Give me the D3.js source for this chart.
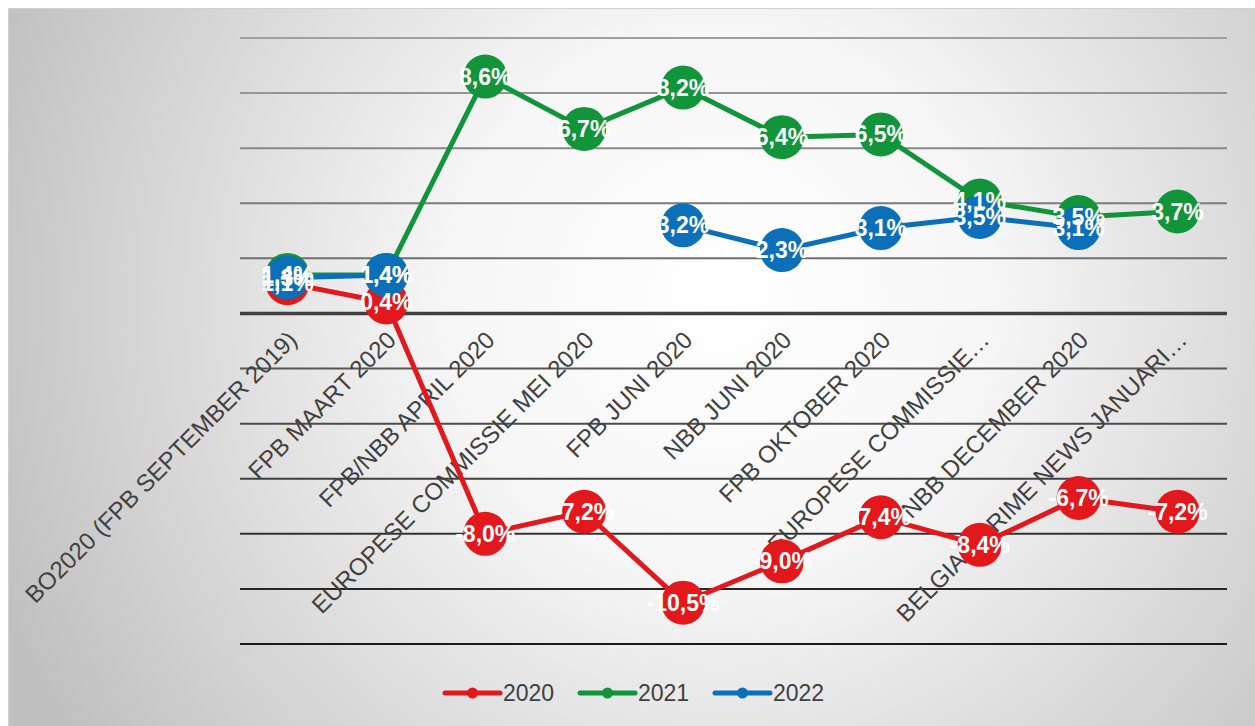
<!DOCTYPE html>
<html>
<head>
<meta charset="utf-8">
<script src="https://cdn.jsdelivr.net/npm/d3@7"></script>
<style>
	body { margin: 0; background: #fff; }
	svg { display: block; font-family: "Liberation Sans", Arial, sans-serif; }
	.x-label { fill: #404040; font-size: 24px; }
	.value-label { fill: #fff; font-size: 23px; font-weight: bold; }
	.legend-label { fill: #404040; font-size: 23px; }
</style>
</head>
<body>
<div id="graphic"></div>
<script>
// Data
var CATEGORIES = [
	'BO2020 (FPB SEPTEMBER 2019)',
	'FPB MAART 2020',
	'FPB/NBB APRIL 2020',
	'EUROPESE COMMISSIE MEI 2020',
	'FPB JUNI 2020',
	'NBB JUNI 2020',
	'FPB OKTOBER 2020',
	'EUROPESE COMMISSIE\u2026',
	'NBB DECEMBER 2020',
	'BELGIAN PRIME NEWS JANUARI\u2026'
];

var SERIES_NAMES = ['2020', '2021', '2022'];

var VALUES_2020 = [1.1, 0.4, -8.0, -7.2, -10.5, -9.0, -7.4, -8.4, -6.7, -7.2];
var VALUES_2021 = [1.4, 1.4, 8.6, 6.7, 8.2, 6.4, 6.5, 4.1, 3.5, 3.7];
var VALUES_2022 = [1.3, 1.4, null, null, 3.2, 2.3, 3.1, 3.5, 3.1, null];

var Y_TICKS = [-12, -10, -8, -6, -4, -2, 0, 2, 4, 6, 8, 10];

var COLORS = ['#e2181c', '#12943a', '#0b6fba'];

var WIDTH = 1255;
var HEIGHT = 726;

function formatValue(v) {
	return d3.format('.1f')(v).replace('.', ',').replace('\u2212', '-') + '%';
}

function render() {
	var margins = { top: 38, right: 28, bottom: 82, left: 240 };

	var svg = d3.select('#graphic').append('svg')
		.attr('width', WIDTH)
		.attr('height', HEIGHT);

	// Background gradient
	var defs = svg.append('defs');
	var grad = defs.append('radialGradient')
		.attr('id', 'bg')
		.attr('gradientUnits', 'userSpaceOnUse')
		.attr('cx', 720).attr('cy', 300)
		.attr('r', 780);
	grad.append('stop').attr('offset', '0%').attr('stop-color', '#ffffff');
	grad.append('stop').attr('offset', '35%').attr('stop-color', '#f6f6f6');
	grad.append('stop').attr('offset', '100%').attr('stop-color', '#c0c0c0');

	svg.append('rect')
		.attr('x', 8.5).attr('y', 8.5)
		.attr('width', WIDTH)
		.attr('height', HEIGHT)
		.attr('fill', 'url(#bg)')
		.attr('stroke', '#d0d0d0')
		.attr('stroke-width', 1);

	var xScale = d3.scalePoint()
		.domain(CATEGORIES)
		.range([margins.left - 2, WIDTH - margins.right])
		.padding(0.5);

	var yScale = d3.scaleLinear()
		.domain([-12, 10])
		.range([HEIGHT - margins.bottom, margins.top]);

	var gridColor = d3.scaleLinear()
		.domain([10, -12])
		.range(['#a0a0a0', '#1a1a1a']);

	// Gridlines
	var grid = svg.append('g').attr('class', 'grid');
	grid.selectAll('line')
		.data(Y_TICKS.filter(function(d) { return d !== 0; }))
		.enter().append('line')
		.attr('x1', margins.left)
		.attr('x2', WIDTH - margins.right)
		.attr('y1', function(d) { return yScale(d); })
		.attr('y2', function(d) { return yScale(d); })
		.attr('stroke', function(d) { return gridColor(d); })
		.attr('stroke-width', 2);

	// Zero axis line
	svg.append('line')
		.attr('x1', margins.left)
		.attr('x2', WIDTH - margins.right)
		.attr('y1', yScale(0))
		.attr('y2', yScale(0))
		.attr('stroke', '#404040')
		.attr('stroke-width', 3.5);

	// Category labels
	svg.append('g').attr('class', 'x-labels')
		.selectAll('text')
		.data(CATEGORIES)
		.enter().append('text')
		.attr('class', 'x-label')
		.attr('text-anchor', 'end')
		.attr('transform', function(d) {
			return 'translate(' + (xScale(d) + 11) + ',' + (yScale(0) + 28) + ') rotate(-45)';
		})
		.text(function(d) { return d; });

	var seriesData = [VALUES_2020, VALUES_2021, VALUES_2022].map(function(vals, i) {
		return {
			name: SERIES_NAMES[i],
			color: COLORS[i],
			points: vals.map(function(v, j) { return { cat: CATEGORIES[j], value: v }; })
		};
	});

	var line = d3.line()
		.defined(function(d) { return d.value !== null; })
		.x(function(d) { return xScale(d.cat); })
		.y(function(d) { return yScale(d.value); });

	var series = svg.append('g').attr('class', 'series')
		.selectAll('g')
		.data(seriesData)
		.enter().append('g');

	series.append('path')
		.attr('d', function(d) { return line(d.points); })
		.attr('fill', 'none')
		.attr('stroke', function(d) { return d.color; })
		.attr('stroke-width', 5)
		.attr('stroke-linejoin', 'round');

	series.selectAll('circle')
		.data(function(d) {
			return d.points.filter(function(p) { return p.value !== null; })
				.map(function(p) { return { cat: p.cat, value: p.value, color: d.color }; });
		})
		.enter().append('circle')
		.attr('cx', function(d) { return xScale(d.cat); })
		.attr('cy', function(d) { return yScale(d.value); })
		.attr('r', 22)
		.attr('fill', function(d) { return d.color; });

	// Value labels on top of everything
	var labels = svg.append('g').attr('class', 'value-labels');
	seriesData.forEach(function(s) {
		labels.selectAll(null)
			.data(s.points.filter(function(p) { return p.value !== null; }))
			.enter().append('text')
			.attr('class', 'value-label')
			.attr('text-anchor', 'middle')
			.attr('x', function(d) { return xScale(d.cat); })
			.attr('y', function(d) { return yScale(d.value) + 8; })
			.text(function(d) { return formatValue(d.value); });
	});

	// Legend
	var legend = svg.append('g').attr('class', 'legend')
		.attr('transform', 'translate(445,693)');
	var item = legend.selectAll('g')
		.data(seriesData)
		.enter().append('g')
		.attr('transform', function(d, i) { return 'translate(' + (i * 135) + ',0)'; });
	item.append('line')
		.attr('x1', 0).attr('x2', 55)
		.attr('stroke', function(d) { return d.color; })
		.attr('stroke-width', 5)
		.attr('stroke-linecap', 'round');
	item.append('circle')
		.attr('cx', 27.5).attr('r', 5.5)
		.attr('fill', function(d) { return d.color; });
	item.append('text')
		.attr('class', 'legend-label')
		.attr('x', 58)
		.attr('y', 8)
		.text(function(d) { return d.name; });
}

document.addEventListener('DOMContentLoaded', render);
</script>
</body>
</html>
